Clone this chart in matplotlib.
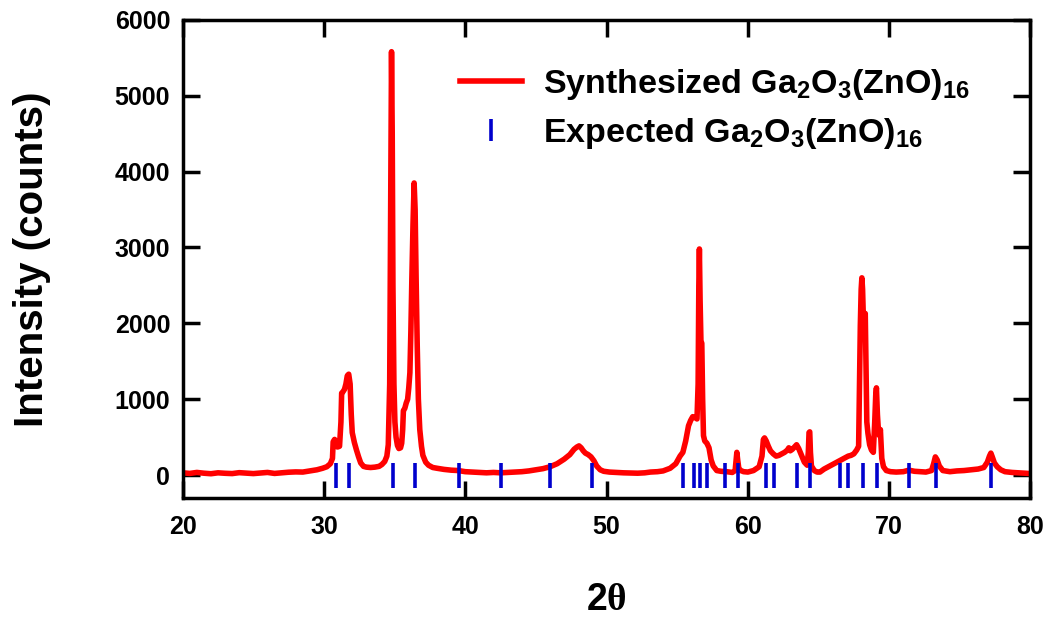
import matplotlib
matplotlib.use("Agg")
import matplotlib.pyplot as plt
from matplotlib.lines import Line2D

plt.rcParams["font.family"] = ["Liberation Sans", "DejaVu Sans"]
plt.rcParams["font.weight"] = "bold"
plt.rcParams["mathtext.fontset"] = "custom"
plt.rcParams["mathtext.rm"] = "Liberation Sans:bold"
plt.rcParams["mathtext.it"] = "Liberation Sans:bold:italic"
plt.rcParams["mathtext.bf"] = "Liberation Sans:bold"
plt.rcParams["mathtext.sf"] = "Liberation Serif"

two_theta = [
    20.0, 20.5, 21.0, 21.5, 22.0, 22.5, 23.0, 23.5, 24.0, 24.5, 25.0, 25.5, 26.0, 26.5,
    27.0, 27.5, 28.0, 28.5, 29.0, 29.5, 29.9, 30.2, 30.45, 30.6, 30.65, 30.75, 30.85,
    30.95, 31.1, 31.2, 31.25, 31.35, 31.45, 31.55, 31.65, 31.75, 31.85, 31.93, 32.0,
    32.15, 32.3, 32.45, 32.6, 32.8, 33.0, 33.3, 33.6, 33.9, 34.1, 34.3, 34.45, 34.55,
    34.65, 34.72, 34.78, 34.83, 34.88, 34.95, 35.02, 35.1, 35.2, 35.3, 35.42, 35.5,
    35.57, 35.62, 35.72, 35.82, 35.92, 36.0, 36.08, 36.15, 36.22, 36.3, 36.38, 36.45,
    36.52, 36.6, 36.68, 36.78, 36.9, 37.0, 37.2, 37.4, 37.7, 38.0, 38.5, 39.0, 39.5,
    40.0, 40.5, 41.0, 41.5, 42.0, 42.5, 43.0, 43.5, 44.0, 44.5, 45.0, 45.5, 46.0, 46.5,
    47.0, 47.4, 47.7, 47.9, 48.05, 48.2, 48.35, 48.5, 48.7, 48.9, 49.1, 49.3, 49.55,
    49.8, 50.2, 50.7, 51.2, 51.7, 52.2, 52.7, 53.1, 53.6, 54.0, 54.5, 54.9, 55.2, 55.4,
    55.6, 55.8, 55.95, 56.1, 56.25, 56.4, 56.48, 56.53, 56.57, 56.62, 56.68, 56.74,
    56.8, 56.86, 56.95, 57.1, 57.25, 57.4, 57.55, 57.8, 58.1, 58.5, 58.9, 59.1, 59.17,
    59.22, 59.28, 59.36, 59.5, 59.7, 60.0, 60.4, 60.8, 61.0, 61.1, 61.18, 61.3, 61.45,
    61.6, 61.8, 62.0, 62.2, 62.4, 62.6, 62.8, 62.9, 63.0, 63.15, 63.3, 63.45, 63.6,
    63.8, 64.0, 64.2, 64.28, 64.33, 64.38, 64.43, 64.5, 64.7, 64.9, 65.1, 65.4, 65.7,
    66.0, 66.3, 66.6, 66.9, 67.1, 67.3, 67.5, 67.7, 67.84, 67.96, 68.02, 68.07, 68.12,
    68.2, 68.26, 68.31, 68.36, 68.42, 68.5, 68.62, 68.75, 68.88, 68.98, 69.05, 69.1,
    69.17, 69.25, 69.32, 69.38, 69.48, 69.6, 69.8, 70.1, 70.5, 71.0, 71.4, 71.8, 72.2,
    72.6, 73.0, 73.15, 73.27, 73.4, 73.55, 73.8, 74.3, 74.8, 75.3, 75.8, 76.3, 76.7,
    76.95, 77.1, 77.2, 77.3, 77.45, 77.65, 77.9, 78.2, 78.7, 79.2, 79.6, 80.0,
]
counts = [
    30, 22, 35, 25, 18, 30, 24, 20, 32, 26, 20, 28, 35, 22,
    30, 38, 42, 40, 55, 70, 90, 110, 150, 220, 440, 470, 450,
    370, 380, 700, 1080, 1100, 1130, 1200, 1310, 1330, 1200, 800, 560,
    430, 330, 240, 160, 115, 105, 100, 105, 115, 140, 180, 250, 400,
    1200, 3500, 5580, 4500, 2500, 1200, 700, 500, 390, 350, 360, 420,
    600, 850, 880, 950, 1000, 1150, 1350, 1900, 2600, 3300, 3850, 3500,
    2600, 1700, 1000, 600, 380, 260, 170, 130, 100, 90, 75, 65, 60,
    45, 40, 35, 30, 35, 30, 35, 40, 45, 55, 70, 85, 110, 150,
    210, 270, 340, 370, 385, 360, 320, 290, 270, 240, 190, 120, 70,
    50, 40, 35, 30, 28, 25, 30, 40, 45, 55, 90, 150, 250, 300,
    450, 650, 720, 770, 760, 740, 1200, 2500, 2980, 2300, 1760, 1740,
    1000, 520, 450, 420, 360, 200, 120, 60, 50, 45, 35, 60, 200,
    300, 200, 90, 60, 45, 40, 60, 110, 250, 470, 490, 450, 380,
    320, 280, 250, 260, 280, 300, 330, 360, 320, 340, 370, 400, 350,
    260, 170, 130, 300, 560, 570, 300, 120, 60, 40, 40, 80, 110,
    140, 170, 200, 230, 250, 260, 280, 330, 380, 1970, 2450, 2600, 2450,
    1900, 2000, 2130, 1500, 700, 550, 400, 330, 300, 700, 1050, 1150,
    800, 560, 520, 600, 220, 110, 60, 45, 40, 45, 65, 50, 45,
    40, 60, 150, 240, 200, 120, 60, 45, 55, 60, 70, 80, 100,
    170, 250, 290, 240, 160, 110, 70, 45, 35, 30, 25, 20,
]

# expected reflection positions
ref_two_theta = [
    30.85, 31.8, 34.9, 36.47, 39.55, 42.52, 45.98, 48.94, 55.39, 56.19, 56.6,
    57.14, 58.39, 59.29, 61.28, 61.87, 63.45, 64.42, 66.55, 67.11, 68.13,
    69.15, 71.43, 73.35, 77.23,
]

red = "#ff0000"
blue = "#0000cd"

fig = plt.figure(figsize=(10.44, 6.2), dpi=100)
ax = fig.add_axes([0.175, 0.197, 0.812, 0.771])

ax.plot(two_theta, counts, color=red, lw=4, solid_joinstyle="round")
ax.vlines(ref_two_theta, -170, 160, color=blue, lw=2.6)

ax.set_xlim(20, 80)
ax.set_ylim(-300, 6000)
ax.set_xticks(range(20, 81, 10))
ax.set_yticks(range(0, 6001, 1000))

for s in ax.spines.values():
    s.set_linewidth(2.5)
ax.tick_params(direction="in", length=12, width=2.5, top=True, right=True,
               labelsize=18)
ax.tick_params(axis="x", pad=12)
ax.tick_params(axis="y", pad=9)

ax.set_ylabel("Intensity (counts)", fontsize=29, fontweight="bold", labelpad=46)
ax.set_xlabel("2$\\mathsf{\\theta}$", fontsize=27, fontweight="bold", labelpad=31)

handles = [
    Line2D([], [], color=red, lw=4),
    Line2D([], [], color=blue, marker="|", linestyle="none", markersize=16, mew=2.6),
]
labels = ["Synthesized Ga$_2$O$_3$(ZnO)$_{16}$", "Expected Ga$_2$O$_3$(ZnO)$_{16}$"]
ax.legend(handles, labels, loc="upper right", bbox_to_anchor=(0.945, 0.93),
          frameon=False, fontsize=24.5, handlelength=1.8, handletextpad=0.63,
          labelspacing=0.42, borderaxespad=0)

fig.savefig("out.png", dpi=100)
